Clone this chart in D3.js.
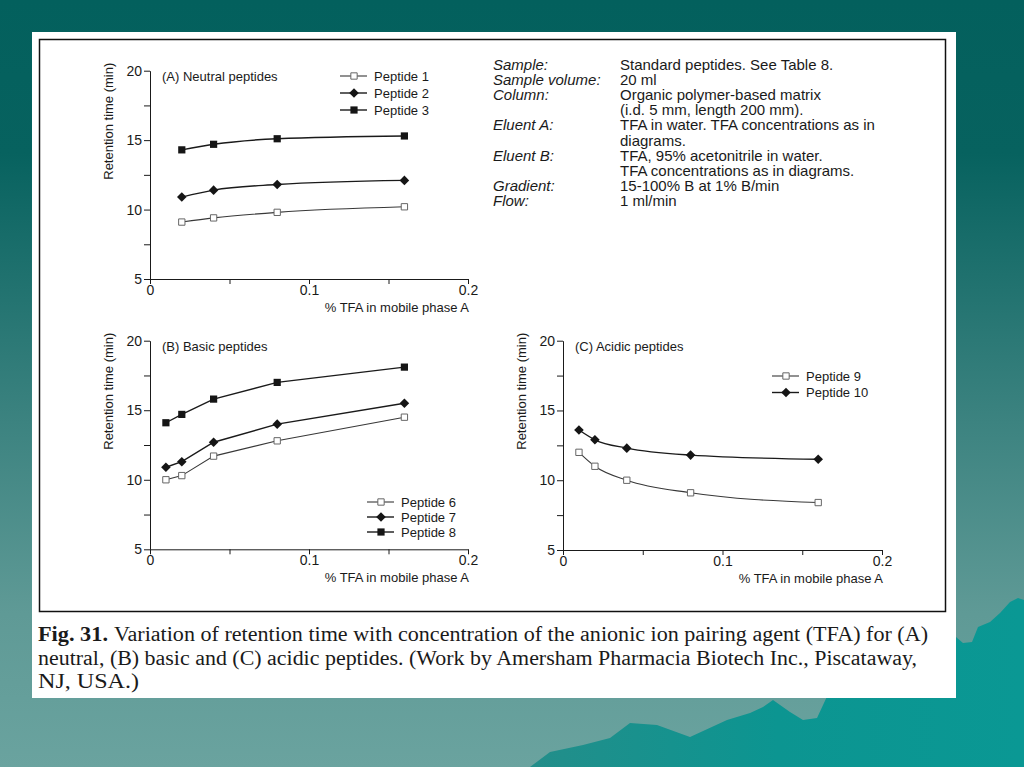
<!DOCTYPE html>
<html>
<head>
<meta charset="utf-8">
<style>
    body { margin: 0; background: #04625f; }
    svg { display: block; }
    .axis text { font-family: 'Liberation Sans', Arial, sans-serif; font-size: 14px; fill: #1a1a1a; }
    .axis path, .axis line { stroke: #1a1a1a; stroke-width: 1; }
    .lbl { font-family: 'Liberation Sans', Arial, sans-serif; font-size: 13px; fill: #1a1a1a; }
    .info { font-family: 'Liberation Sans', Arial, sans-serif; font-size: 15px; fill: #1a1a1a; }
    .caption { font-family: 'Liberation Serif', 'Times New Roman', serif; font-size: 20px; fill: #1a1a1a; }
</style>
</head>
<body>
<svg id="slide" width="1024" height="767"></svg>

<script src="https://cdn.jsdelivr.net/npm/d3@7"></script>
<script>

    // values
    let tfaA = [0.02, 0.04, 0.08, 0.16]
    let tfaBC = [0.01, 0.02, 0.04, 0.08, 0.16]

    let peptide1 = [9.1, 9.4, 9.8, 10.2]
    let peptide2 = [10.9, 11.4, 11.8, 12.1]
    let peptide3 = [14.3, 14.7, 15.1, 15.3]

    let peptide6 = [10.0, 10.3, 11.7, 12.8, 14.5]
    let peptide7 = [10.9, 11.3, 12.7, 14.0, 15.5]
    let peptide8 = [14.1, 14.7, 15.8, 17.0, 18.1]

    let peptide9 = [12.0, 11.0, 10.0, 9.1, 8.4]
    let peptide10 = [13.6, 12.9, 12.3, 11.8, 11.5]

    let yTicks = [5, 7.5, 10, 12.5, 15, 17.5, 20]
    let xTicks = [0, 0.05, 0.1, 0.15, 0.2]

    let infoLabels = ["Sample:", "Sample volume:", "Column:", "", "Eluent A:", "", "Eluent B:", "", "Gradient:", "Flow:"]
    let infoValues = ["Standard peptides. See Table 8.", "20 ml", "Organic polymer-based matrix",
        "(i.d. 5 mm, length 200 mm).", "TFA in water. TFA concentrations as in", "diagrams.",
        "TFA, 95% acetonitrile in water.", "TFA concentrations as in diagrams.",
        "15-100% B at 1% B/min", "1 ml/min"]

    let panels = [
        { title: "(A) Neutral peptides", x0: 150, x1: 468, top: 70.7, bottom: 279, tfa: tfaA,
          curve: d3.curveMonotoneX,
          series: [["Peptide 1", peptide1, "open"], ["Peptide 2", peptide2, "diamond"], ["Peptide 3", peptide3, "square"]],
          legend: { x: 340, y: 76, step: 17 } },
        { title: "(B) Basic peptides", x0: 150, x1: 468, top: 340.7, bottom: 549.3, tfa: tfaBC,
          curve: d3.curveLinear,
          series: [["Peptide 6", peptide6, "open"], ["Peptide 7", peptide7, "diamond"], ["Peptide 8", peptide8, "square"]],
          legend: { x: 367, y: 502, step: 15 } },
        { title: "(C) Acidic peptides", x0: 563, x1: 882, top: 340.7, bottom: 550, tfa: tfaBC,
          curve: d3.curveMonotoneX,
          series: [["Peptide 9", peptide9, "open"], ["Peptide 10", peptide10, "diamond"]],
          legend: { x: 772, y: 376, step: 16.5 } }
    ]

    let svg = d3.select("#slide")

    // ---- slide background
    let defs = svg.append("defs")
    let bg = defs.append("linearGradient").attr("id", "bg").attr("x1", 0).attr("y1", 0).attr("x2", 0).attr("y2", 1)
    bg.append("stop").attr("offset", "0").attr("stop-color", "#03605d")
    bg.append("stop").attr("offset", "0.2").attr("stop-color", "#07625f")
    bg.append("stop").attr("offset", "0.55").attr("stop-color", "#3c8380")
    bg.append("stop").attr("offset", "0.8").attr("stop-color", "#5f9a96")
    bg.append("stop").attr("offset", "1").attr("stop-color", "#6aa39f")
    let mt = defs.append("linearGradient").attr("id", "mt").attr("x1", 0).attr("y1", 0).attr("x2", 1).attr("y2", 0)
    mt.append("stop").attr("offset", "0").attr("stop-color", "#238e8a")
    mt.append("stop").attr("offset", "0.5").attr("stop-color", "#0c9591")
    mt.append("stop").attr("offset", "1").attr("stop-color", "#0a9894")

    svg.append("rect").attr("width", 1024).attr("height", 767).attr("fill", "url(#bg)")

    let ridge = [[530, 767], [550, 752], [583, 745], [610, 738], [630, 723], [657, 725], [690, 737],
        [727, 720], [750, 713], [763, 707], [773, 700], [790, 712], [803, 720], [817, 718], [830, 690],
        [956, 637], [963, 643], [972, 642], [978, 627], [990, 622], [1000, 613], [1010, 602],
        [1018, 598], [1024, 600], [1024, 767]]
    svg.append("path")
        .attr("d", d3.line()(ridge) + "Z")
        .attr("fill", "url(#mt)")

    // ---- white card + frame
    svg.append("rect").attr("x", 32).attr("y", 32).attr("width", 924).attr("height", 666).attr("fill", "white")
    svg.append("rect").attr("x", 39.5).attr("y", 39.5).attr("width", 906).attr("height", 572)
        .attr("fill", "none").attr("stroke", "#111").attr("stroke-width", 1.5)

    // ---- markers
    function drawMarker(g, kind, cx, cy) {
        if (kind === "diamond") {
            g.append("path")
                .attr("d", d3.symbol(d3.symbolSquare, 46)())
                .attr("transform", "translate(" + cx + "," + cy + ") rotate(45)")
                .attr("fill", "#151515")
        } else {
            g.append("path")
                .attr("d", d3.symbol(d3.symbolSquare, kind === "open" ? 40 : 52)())
                .attr("transform", "translate(" + cx + "," + cy + ")")
                .attr("fill", kind === "open" ? "white" : "#151515")
                .attr("stroke", kind === "open" ? "#666" : "none")
                .attr("stroke-width", 1)
        }
    }

    function lineColor(kind) { return kind === "open" ? "#383838" : "#1a1a1a" }
    function lineWidth(kind) { return kind === "open" ? 1.1 : 1.4 }

    // ---- panels
    panels.forEach(function (p) {
        let x = d3.scaleLinear().domain([0, 0.2]).range([p.x0, p.x1])
        let y = d3.scaleLinear().domain([5, 20]).range([p.bottom, p.top])
        let g = svg.append("g")

        g.append("g")
            .attr("class", "axis")
            .attr("transform", "translate(" + p.x0 + ",0)")
            .call(d3.axisLeft(y).tickValues(yTicks).tickSize(6).tickSizeOuter(0).tickPadding(2)
                .tickFormat(d => d % 5 === 0 ? d : ""))

        g.append("g")
            .attr("class", "axis")
            .attr("transform", "translate(0," + p.bottom + ")")
            .call(d3.axisBottom(x).tickValues(xTicks).tickSize(5).tickSizeOuter(0).tickPadding(1)
                .tickFormat(d => d === 0 ? "0" : (Math.round(d * 100) % 10 === 0 ? d3.format(".1f")(d) : "")))

        g.selectAll(".axis .domain").attr("stroke", "#1a1a1a")

        g.append("text").attr("class", "lbl")
            .attr("x", p.x0 + 12).attr("y", p.top + 10.5)
            .text(p.title)

        g.append("text").attr("class", "lbl")
            .attr("text-anchor", "end")
            .attr("x", p.x1 + 1).attr("y", p.bottom + 33)
            .text("% TFA in mobile phase A")

        g.append("text").attr("class", "lbl")
            .attr("text-anchor", "end")
            .attr("transform", "translate(" + (p.x0 - 37) + "," + (p.top - 8) + ") rotate(-90)")
            .text("Retention time (min)")

        p.series.forEach(function (s, i) {
            let pts = p.tfa.map((t, j) => [t, s[1][j]])
            let line = d3.line().x(d => x(d[0])).y(d => y(d[1])).curve(p.curve)

            g.append("path")
                .attr("d", line(pts))
                .attr("fill", "none")
                .attr("stroke", lineColor(s[2]))
                .attr("stroke-width", lineWidth(s[2]))

            pts.forEach(d => drawMarker(g, s[2], x(d[0]), y(d[1])))

            // legend entry
            let ly = p.legend.y + i * p.legend.step
            g.append("line")
                .attr("x1", p.legend.x).attr("x2", p.legend.x + 27)
                .attr("y1", ly).attr("y2", ly)
                .attr("stroke", lineColor(s[2]))
                .attr("stroke-width", lineWidth(s[2]))
            drawMarker(g, s[2], p.legend.x + 14, ly)
            g.append("text").attr("class", "lbl")
                .attr("x", p.legend.x + 34).attr("y", ly + 4.6)
                .text(s[0])
        })
    })

    // ---- conditions block
    let info = svg.append("g")
    infoLabels.forEach(function (t, i) {
        let by = 70 + i * 15.1
        info.append("text").attr("class", "info")
            .attr("x", 493).attr("y", by)
            .style("font-style", "italic")
            .text(t)
        info.append("text").attr("class", "info")
            .attr("x", 620).attr("y", by)
            .text(infoValues[i])
    })

    // ---- caption
    svg.append("text").attr("class", "caption")
        .attr("x", 38).attr("y", 641)
        .attr("textLength", 70).attr("lengthAdjust", "spacingAndGlyphs")
        .style("font-weight", "bold")
        .text("Fig. 31.")
    svg.append("text").attr("class", "caption")
        .attr("x", 114).attr("y", 641)
        .attr("textLength", 814).attr("lengthAdjust", "spacingAndGlyphs")
        .text("Variation of retention time with concentration of the anionic ion pairing agent (TFA) for (A)")
    svg.append("text").attr("class", "caption")
        .attr("x", 38).attr("y", 665)
        .attr("textLength", 879).attr("lengthAdjust", "spacingAndGlyphs")
        .text("neutral, (B) basic and (C) acidic peptides. (Work by Amersham Pharmacia Biotech Inc., Piscataway,")
    svg.append("text").attr("class", "caption")
        .attr("x", 38).attr("y", 688)
        .attr("textLength", 101).attr("lengthAdjust", "spacingAndGlyphs")
        .text("NJ, USA.)")

</script>
</body>
</html>
